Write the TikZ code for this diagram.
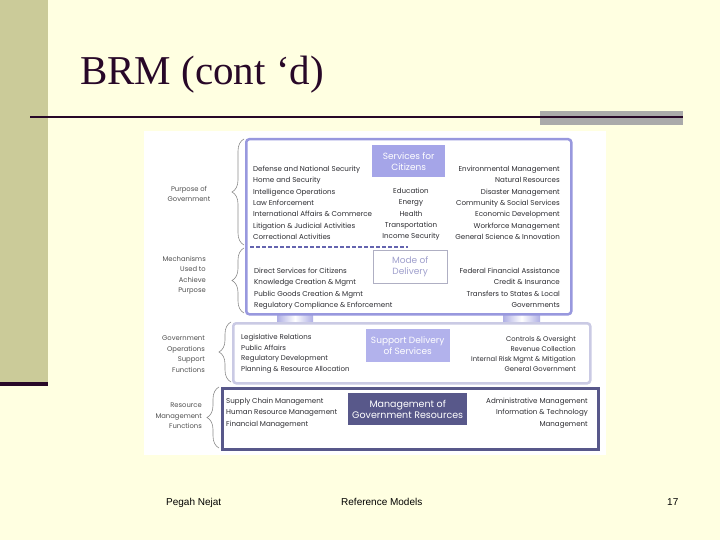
\documentclass[tikz,border=0pt]{standalone}
\usepackage{fontspec}
\setmainfont{Liberation Serif}
\newfontfamily\brmfont{Poppins}
\newfontfamily\footfont{Liberation Sans}
\usetikzlibrary{decorations.pathreplacing}

\definecolor{slidebg}{RGB}{255,255,225}
\definecolor{sidebar}{RGB}{203,203,153}
\definecolor{titleink}{RGB}{40,8,40}
\definecolor{rulegray}{RGB}{170,170,170}
\definecolor{citizenblue}{RGB}{152,152,222}
\definecolor{supportgray}{RGB}{202,202,228}
\definecolor{resourceslate}{RGB}{88,88,138}
\definecolor{boxfill}{RGB}{165,165,232}
\definecolor{supportfill}{RGB}{178,178,236}
\definecolor{modegray}{RGB}{175,175,195}
\definecolor{modeink}{RGB}{160,160,205}
\definecolor{pillarblue}{RGB}{175,175,228}
\definecolor{dashink}{RGB}{100,100,175}
\definecolor{itemink}{RGB}{45,45,50}
\definecolor{labink}{RGB}{80,80,80}
\definecolor{braceink}{RGB}{140,140,140}

\begin{document}
\begin{tikzpicture}[x=1pt,y=-1pt,
    item/.style={font=\brmfont\fontsize{7.1}{11.3}\selectfont,text=itemink,inner sep=0pt},
    leftcol/.style={item,align=left,anchor=north west},
    rightcol/.style={item,align=right,anchor=north east},
    midcol/.style={item,align=center,anchor=north},
    lab/.style={font=\brmfont\fontsize{6.8}{10.5}\selectfont,text=labink,inner sep=0pt,align=right,anchor=north east},
    band/.style={draw,line width=2.5pt,fill=white,rounded corners=3pt,anchor=north west,inner sep=0pt},
    tag/.style={font=\brmfont\fontsize{9}{11}\selectfont,text=white,align=center,inner sep=0pt,anchor=north west},
    pillar/.style={left color=pillarblue,right color=pillarblue,middle color=white},
    grp/.style={draw=braceink,line width=0.6pt,decorate,decoration={brace,amplitude=12pt}},
    foot/.style={font=\footfont\fontsize{10}{12}\selectfont,anchor=base west,inner sep=0pt}
  ]
  \useasboundingbox (0,0) rectangle (720,540);
  \fill[slidebg] (0,0) rectangle (720,540);

  %slide frame
  \fill[sidebar] (0,0) rectangle (48,382);
  \fill[titleink] (0,382) rectangle (48,386);
  \node[anchor=base west,font=\fontsize{41}{44}\selectfont,text=titleink,inner sep=0pt] (title) at (80,85) {BRM (cont ‘d)};
  \fill[rulegray] (540,111) rectangle (683,125);
  \draw[titleink,line width=2pt] (30,117) -- (683,117);
  \fill[white] (144,131) rectangle (606,455);

  %pillars
  \shade[pillar] (277,311) rectangle (313,323);
  \shade[pillar] (503,311) rectangle (540,323);

  %bands
  \node[band,draw=citizenblue,minimum width=325,minimum height=175] (citizens) at (245,138) {};
  \node[band,draw=supportgray,minimum width=357,minimum height=60] (support) at (232,322) {};
  \node[band,draw=resourceslate,rounded corners=0pt,minimum width=376,minimum height=61] (resources) at (221,387) {};
  \draw[dashink,line width=1.5pt,dash pattern=on 4pt off 2pt] (250,247) -- (408,247);

  %tags
  \node[tag,fill=boxfill,minimum width=73,minimum height=32] (svc) at (372,145) {Services for\\Citizens};
  \node[tag,draw=modegray,fill=white,text=modeink,minimum width=74,minimum height=33] (mode) at (373,250) {Mode of\\Delivery};
  \node[tag,draw=white,fill=supportfill,minimum width=85,minimum height=34] (sds) at (365,328) {Support Delivery\\of Services};
  \node[tag,fill=resourceslate,font=\brmfont\fontsize{9.5}{11.5}\selectfont,minimum width=119,minimum height=32] (mgr) at (348,393) {Management of\\Government Resources};

  %purpose of government
  \node[leftcol] (purposel) at (253,166) {Defense and National Security\\Home and Security\\Intelligence Operations\\Law Enforcement\\International Affairs \& Commerce\\Litigation \& Judicial Activities\\Correctional Activities};
  \node[midcol] (purposem) at (411,188) {Education\\Energy\\Health\\Transportation\\Income Security};
  \node[rightcol] (purposer) at (560,166) {Environmental Management\\Natural Resources\\Disaster Management\\Community \& Social Services\\Economic Development\\Workforce Management\\General Science \& Innovation};

  %mode of delivery
  \node[leftcol] (deliveryl) at (254,268) {Direct Services for Citizens\\Knowledge Creation \& Mgmt\\Public Goods Creation \& Mgmt\\Regulatory Compliance \& Enforcement};
  \node[rightcol] (deliveryr) at (560,268) {Federal Financial Assistance\\Credit \& Insurance\\Transfers to States \& Local\\Governments};

  %support delivery
  \node[leftcol,font=\brmfont\fontsize{7}{10.6}\selectfont] (supportl) at (241,334) {Legislative Relations\\Public Affairs\\Regulatory Development\\Planning \& Resource Allocation};
  \node[rightcol,font=\brmfont\fontsize{6.8}{9.9}\selectfont] (supportr) at (576,336) {Controls \& Oversight\\Revenue Collection\\Internal Risk Mgmt \& Mitigation\\General Government};

  %resources
  \node[leftcol] (resourcesl) at (226,398) {Supply Chain Management\\Human Resource Management\\Financial Management};
  \node[rightcol] (resourcesr) at (588,398) {Administrative Management\\Information \& Technology\\Management};

  %labels
  \node[lab,align=center,anchor=north] (purpose) at (189,186) {Purpose of\\Government};
  \node[lab] (mechanisms) at (206,256) {Mechanisms\\Used to\\Achieve\\Purpose};
  \node[lab] (operations) at (205,336) {Government\\Operations\\Support\\Functions};
  \node[lab] (management) at (202,403) {Resource\\Management\\Functions};

  %braces
  \coordinate (b1top) at (244,139);
  \coordinate (b1bot) at (244,245);
  \coordinate (b2top) at (244,248);
  \coordinate (b2bot) at (244,313);
  \coordinate (b3top) at (231,322);
  \coordinate (b3bot) at (231,382);
  \coordinate (b4top) at (219,387);
  \coordinate (b4bot) at (219,448);
  \draw[grp] (b1bot) -- (b1top);
  \draw[grp] (b2bot) -- (b2top);
  \draw[grp] (b3bot) -- (b3top);
  \draw[grp] (b4bot) -- (b4top);

  %footer
  \node[foot] (author) at (166,505) {Pegah Nejat};
  \node[foot] (topic) at (341,505) {Reference Models};
  \node[foot] (page) at (667,505) {17};
\end{tikzpicture}
\end{document}
